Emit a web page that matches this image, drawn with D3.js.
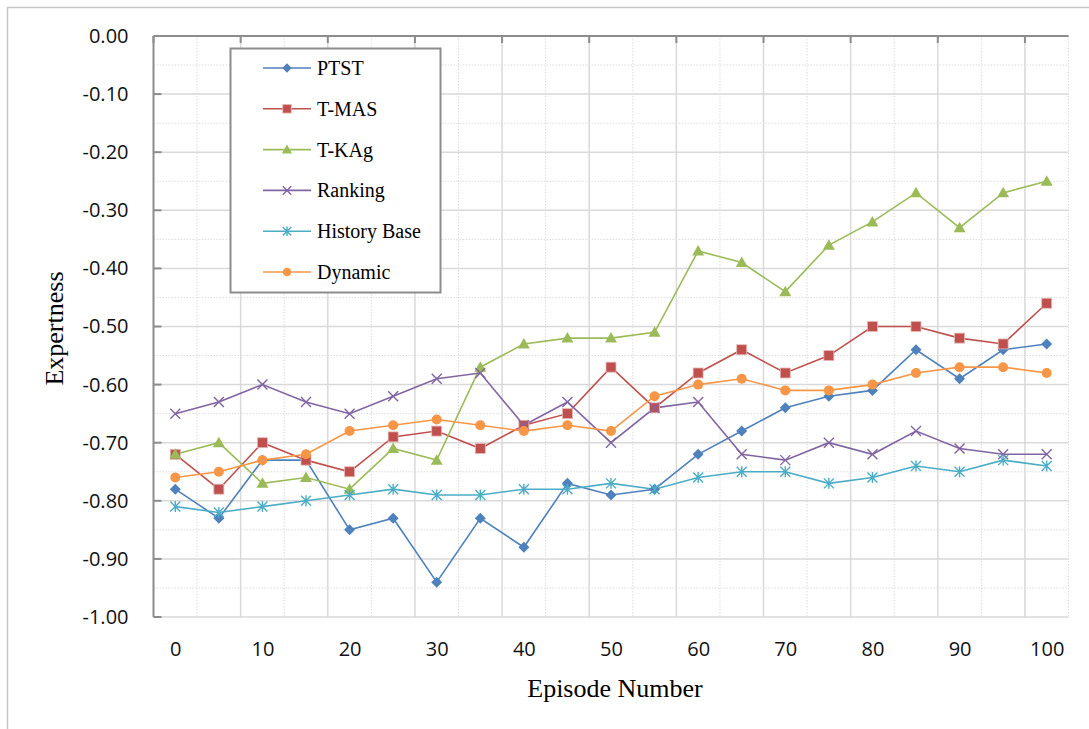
<!DOCTYPE html>
<html>
<head>
<meta charset="utf-8">
<script src="https://cdn.jsdelivr.net/npm/d3@7"></script>
<style>
  html, body { margin: 0; padding: 0; background: #fff; }
  svg { display: block; }
</style>
</head>
<body>
<svg id="chart" width="1089" height="729"></svg>
<script>
// Episode numbers along the horizontal axis
const episodes = [0, 5, 10, 15, 20, 25, 30, 35, 40, 45, 50, 55, 60, 65, 70, 75, 80, 85, 90, 95, 100];
const episodeLabels = [0, 10, 20, 30, 40, 50, 60, 70, 80, 90, 100];
const yTicks = [0, -0.1, -0.2, -0.3, -0.4, -0.5, -0.6, -0.7, -0.8, -0.9, -1.0];

// Expertness per method
const ptst        = [-0.78, -0.83, -0.73, -0.73, -0.85, -0.83, -0.94, -0.83, -0.88, -0.77, -0.79, -0.78, -0.72, -0.68, -0.64, -0.62, -0.61, -0.54, -0.59, -0.54, -0.53];
const tmas        = [-0.72, -0.78, -0.70, -0.73, -0.75, -0.69, -0.68, -0.71, -0.67, -0.65, -0.57, -0.64, -0.58, -0.54, -0.58, -0.55, -0.50, -0.50, -0.52, -0.53, -0.46];
const tkag        = [-0.72, -0.70, -0.77, -0.76, -0.78, -0.71, -0.73, -0.57, -0.53, -0.52, -0.52, -0.51, -0.37, -0.39, -0.44, -0.36, -0.32, -0.27, -0.33, -0.27, -0.25];
const ranking     = [-0.65, -0.63, -0.60, -0.63, -0.65, -0.62, -0.59, -0.58, -0.67, -0.63, -0.70, -0.64, -0.63, -0.72, -0.73, -0.70, -0.72, -0.68, -0.71, -0.72, -0.72];
const historyBase = [-0.81, -0.82, -0.81, -0.80, -0.79, -0.78, -0.79, -0.79, -0.78, -0.78, -0.77, -0.78, -0.76, -0.75, -0.75, -0.77, -0.76, -0.74, -0.75, -0.73, -0.74];
const dynamic     = [-0.76, -0.75, -0.73, -0.72, -0.68, -0.67, -0.66, -0.67, -0.68, -0.67, -0.68, -0.62, -0.60, -0.59, -0.61, -0.61, -0.60, -0.58, -0.57, -0.57, -0.58];

const seriesNames = ["PTST", "T-MAS", "T-KAg", "Ranking", "History Base", "Dynamic"];
const seriesColors = ["#4F81BD", "#C0504D", "#9BBB59", "#8064A2", "#4BACC6", "#F79646"];
const seriesMarkers = ["diamond", "square", "triangle", "cross", "asterisk", "circle"];
const seriesValues = [ptst, tmas, tkag, ranking, historyBase, dynamic];

const series = seriesNames.map((name, i) => ({
  name, color: seriesColors[i], marker: seriesMarkers[i],
  points: episodes.map((e, j) => ({ e, v: seriesValues[i][j] }))
}));

const svg = d3.select("#chart");
const plot = { left: 153.5, right: 1068.5, top: 36, bottom: 617 };

const x = d3.scalePoint().domain(episodes).range([plot.left, plot.right]).padding(0.5);
const y = d3.scaleLinear().domain([-1, 0]).range([plot.bottom, plot.top]);
const step = x.step();

// outer chart frame
svg.append("path")
  .attr("d", `M7.5,${729 + 5} V7.5 H${1089 + 5}`)
  .attr("fill", "none").attr("stroke", "#c6c6c6").attr("stroke-width", 1.5);

const grid = svg.append("g");
// horizontal grid: solid at every 0.1, dotted halfway between
d3.range(0, 21).forEach(k => {
  const v = -k * 0.05;
  const major = k % 2 === 0;
  grid.append("line")
    .attr("x1", plot.left).attr("x2", plot.right)
    .attr("y1", y(v)).attr("y2", y(v))
    .attr("stroke", major ? "#d9d9d9" : "#dcdcdc")
    .attr("stroke-width", major ? 1.5 : 1)
    .attr("stroke-dasharray", major ? null : "1.5,1.5");
});
// vertical grid at category boundaries
d3.range(1, episodes.length + 1).forEach(k => {
  const bx = x(episodes[0]) - step / 2 + k * step;
  const major = k % 2 === 0;
  grid.append("line")
    .attr("x1", bx).attr("x2", bx)
    .attr("y1", plot.top).attr("y2", plot.bottom)
    .attr("stroke", major ? "#d9d9d9" : "#dcdcdc")
    .attr("stroke-width", major ? 1.5 : 1)
    .attr("stroke-dasharray", major ? null : "1.5,1.5");
});

// category axis along the zero line (top) with tick marks pointing down
const axisG = svg.append("g");
axisG.append("line")
  .attr("x1", plot.left).attr("x2", plot.right)
  .attr("y1", y(0)).attr("y2", y(0))
  .attr("stroke", "#8c8c8c").attr("stroke-width", 2);
d3.range(0, episodes.length + 1, 2).forEach(k => {
  const bx = x(episodes[0]) - step / 2 + k * step;
  axisG.append("line")
    .attr("x1", bx).attr("x2", bx)
    .attr("y1", y(0)).attr("y2", y(0) + 7)
    .attr("stroke", "#8c8c8c").attr("stroke-width", 2);
});

// value axis line with inward ticks
axisG.append("line")
  .attr("x1", plot.left).attr("x2", plot.left)
  .attr("y1", plot.top).attr("y2", plot.bottom)
  .attr("stroke", "#8c8c8c").attr("stroke-width", 2);
yTicks.forEach(v => {
  axisG.append("line")
    .attr("x1", plot.left).attr("x2", plot.left + 8)
    .attr("y1", y(v)).attr("y2", y(v))
    .attr("stroke", "#8c8c8c").attr("stroke-width", 2);
});

// value labels
const fmt = v => d3.format(".2f")(v).replace("\u2212", "-");
const yAxis = d3.axisLeft(y).tickValues(yTicks).tickFormat(fmt).tickSize(0).tickPadding(25);
svg.append("g").attr("transform", `translate(${plot.left},0)`).call(yAxis)
  .call(g => g.select(".domain").remove())
  .selectAll("text")
  .attr("font-family", "'Open Sans', Lato, sans-serif")
  .attr("font-size", 20).attr("fill", "#111");

// episode labels below the plot
const xAxis = d3.axisBottom(x).tickValues(episodeLabels).tickSize(0).tickPadding(25);
svg.append("g").attr("transform", `translate(0,${plot.bottom})`).call(xAxis)
  .call(g => g.select(".domain").remove())
  .selectAll("text")
  .attr("font-family", "'Open Sans', Lato, sans-serif")
  .attr("font-size", 20).attr("fill", "#111");

// axis titles
svg.append("text")
  .attr("x", (plot.left + plot.right) / 2 + 4).attr("y", 697)
  .attr("text-anchor", "middle")
  .attr("font-family", "'Liberation Serif', 'Times New Roman', serif")
  .attr("font-size", 26).attr("fill", "#000")
  .text("Episode Number");
svg.append("text")
  .attr("transform", `translate(63,${(plot.top + plot.bottom) / 2 + 2}) rotate(-90)`)
  .attr("text-anchor", "middle")
  .attr("font-family", "'Liberation Serif', 'Times New Roman', serif")
  .attr("font-size", 26).attr("fill", "#000")
  .text("Expertness");

// marker shapes
function marker(sel, type, color, s) {
  if (type === "diamond") {
    const r = 5.5 * s;
    sel.append("path").attr("d", `M0,${-r}L${r},0L0,${r}L${-r},0Z`).attr("fill", color);
  } else if (type === "square") {
    sel.append("rect").attr("x", -5 * s).attr("y", -5 * s).attr("width", 10 * s).attr("height", 10 * s)
      .attr("fill", color).attr("stroke", "#e3b8b7").attr("stroke-width", 0.8);
  } else if (type === "triangle") {
    sel.append("path").attr("d", `M0,${-6 * s}L${6 * s},${4.5 * s}L${-6 * s},${4.5 * s}Z`).attr("fill", color);
  } else if (type === "cross") {
    const r = 5 * s;
    sel.append("path").attr("d", `M${-r},${-r}L${r},${r}M${-r},${r}L${r},${-r}`)
      .attr("stroke", color).attr("stroke-width", 1.4).attr("fill", "none");
  } else if (type === "asterisk") {
    const r = 5 * s;
    sel.append("path").attr("d", `M${-r},${-r}L${r},${r}M${-r},${r}L${r},${-r}M0,${-r * 1.1}L0,${r * 1.1}`)
      .attr("stroke", color).attr("stroke-width", 1.4).attr("fill", "none");
  } else if (type === "circle") {
    sel.append("circle").attr("r", 5 * s).attr("fill", color);
  }
}

// series lines and markers
const line = d3.line().x(d => x(d.e)).y(d => y(d.v));
const seriesG = svg.append("g");
series.forEach(s => {
  seriesG.append("path").datum(s.points)
    .attr("d", line).attr("fill", "none")
    .attr("stroke", s.color).attr("stroke-width", 1.6);
});
series.forEach(s => {
  s.points.forEach(p => {
    const g = seriesG.append("g").attr("transform", `translate(${x(p.e)},${y(p.v)})`);
    marker(g, s.marker, s.color, 1);
  });
});

// legend
const legend = svg.append("g");
legend.append("rect")
  .attr("x", 230.5).attr("y", 48.5).attr("width", 210).attr("height", 244)
  .attr("fill", "#fff").attr("stroke", "#8c8c8c").attr("stroke-width", 2);
series.forEach((s, i) => {
  const ly = 68 + i * 40.8;
  legend.append("line").attr("x1", 263).attr("x2", 311).attr("y1", ly).attr("y2", ly)
    .attr("stroke", s.color).attr("stroke-width", 1.6);
  const g = legend.append("g").attr("transform", `translate(287,${ly})`);
  marker(g, s.marker, s.color, 0.85);
  legend.append("text").attr("x", 317).attr("y", ly + 7)
    .attr("font-family", "'Liberation Serif', 'Times New Roman', serif")
    .attr("font-size", 20).attr("fill", "#000")
    .text(s.name);
});
</script>
</body>
</html>
